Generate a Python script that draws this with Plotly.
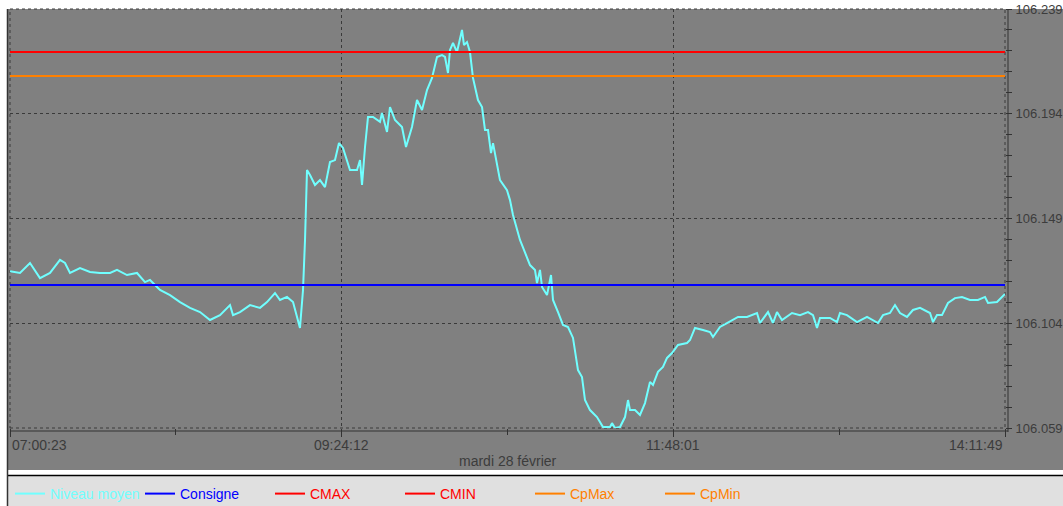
import plotly.graph_objects as go
import pandas as pd

DATE = "2023-02-28"

# --- data -----------------------------------------------------------------
times = [
    "07:00:23", "07:04:43", "07:09:03", "07:13:23", "07:17:44", "07:22:04", "07:24:14", "07:26:24",
    "07:30:44", "07:35:04", "07:39:24", "07:43:45", "07:46:47", "07:51:07", "07:55:27", "07:58:55",
    "08:01:05", "08:05:25", "08:09:46", "08:14:06", "08:18:26", "08:22:46", "08:27:06", "08:31:26",
    "08:35:47", "08:37:05", "08:40:07", "08:44:27", "08:48:47", "08:51:49", "08:55:17", "08:57:27",
    "09:00:29", "09:03:06", "09:06:07", "09:07:26", "09:08:18", "09:08:44", "09:09:10", "09:10:28",
    "09:12:38", "09:14:48", "09:16:58", "09:19:08", "09:21:18", "09:23:02", "09:24:46", "09:27:48",
    "09:30:51", "09:32:09", "09:33:01", "09:34:19", "09:35:37", "09:37:47", "09:40:49", "09:41:41",
    "09:43:51", "09:45:09", "09:47:19", "09:50:21", "09:52:05", "09:54:41", "09:56:52", "09:59:02",
    "10:01:12", "10:03:22", "10:05:32", "10:07:42", "10:09:00", "10:10:18", "10:11:10", "10:12:28",
    "10:14:12", "10:16:22", "10:17:14", "10:18:32", "10:19:50", "10:21:08", "10:23:18", "10:25:03",
    "10:26:21", "10:27:39", "10:28:57", "10:29:49", "10:32:51", "10:35:53", "10:37:11", "10:38:29",
    "10:41:31", "10:45:51", "10:48:01", "10:48:53", "10:50:11", "10:51:04", "10:53:14", "10:54:58",
    "10:55:50", "10:58:00", "11:00:10", "11:02:20", "11:04:30", "11:06:40", "11:08:24", "11:09:42",
    "11:11:52", "11:14:54", "11:17:30", "11:20:33", "11:21:25", "11:22:43", "11:24:53", "11:27:03",
    "11:28:21", "11:29:13", "11:31:23", "11:33:33", "11:35:43", "11:37:53", "11:39:11", "11:41:21",
    "11:43:31", "11:45:16", "11:47:26", "11:50:02", "11:53:56", "11:55:14", "11:57:24", "12:00:52",
    "12:03:54", "12:05:12", "12:08:14", "12:11:16", "12:13:53", "12:16:03", "12:19:57", "12:24:17",
    "12:25:35", "12:29:03", "12:31:13", "12:32:57", "12:35:07", "12:39:28", "12:42:55", "12:46:24",
    "12:48:34", "12:50:18", "12:51:36", "12:55:56", "12:58:58", "13:00:16", "13:03:18", "13:07:39",
    "13:11:59", "13:16:45", "13:18:55", "13:21:57", "13:24:07", "13:26:17", "13:29:19", "13:31:55",
    "13:34:58", "13:39:18", "13:40:36", "13:42:20", "13:44:30", "13:47:06", "13:50:08", "13:53:10",
    "13:56:38", "14:00:06", "14:03:09", "14:04:27", "14:08:21", "14:11:49",
]

niveau_moyen = [
    106.1264, 106.1256, 106.1299, 106.1234, 106.1256, 106.1312, 106.1299, 106.1256,
    106.1277, 106.1260, 106.1256, 106.1256, 106.1269, 106.1247, 106.1256, 106.1217,
    106.1226, 106.1183, 106.1161, 106.1131, 106.1106, 106.1088, 106.1054, 106.1075,
    106.1118, 106.1075, 106.1088, 106.1118, 106.1106, 106.1131, 106.1170, 106.1140,
    106.1153, 106.1131, 106.1020, 106.1183, 106.1398, 106.1569, 106.1698, 106.1677,
    106.1634, 106.1655, 106.1625, 106.1733, 106.1741, 106.1814, 106.1793, 106.1698,
    106.1698, 106.1741, 106.1634, 106.1797, 106.1926, 106.1926, 106.1905, 106.1943,
    106.1862, 106.1969, 106.1913, 106.1883, 106.1797, 106.1883, 106.1999, 106.1956,
    106.2042, 106.2094, 106.2184, 106.2192, 106.2184, 106.2115, 106.2214, 106.2244,
    106.2205, 106.2300, 106.2235, 106.2248, 106.2205, 106.2094, 106.1999, 106.1969,
    106.1870, 106.1870, 106.1771, 106.1814, 106.1655, 106.1612, 106.1569, 106.1505,
    106.1398, 106.1290, 106.1269, 106.1213, 106.1269, 106.1196, 106.1161, 106.1247,
    106.1140, 106.1088, 106.1033, 106.1024, 106.0977, 106.0839, 106.0809, 106.0710,
    106.0667, 106.0637, 106.0594, 106.0594, 106.0611, 106.0590, 106.0594, 106.0637,
    106.0710, 106.0667, 106.0667, 106.0646, 106.0697, 106.0788, 106.0775, 106.0831,
    106.0852, 106.0891, 106.0912, 106.0947, 106.0955, 106.0968, 106.1020, 106.1011,
    106.1002, 106.0981, 106.1024, 106.1041, 106.1054, 106.1067, 106.1067, 106.1084,
    106.1041, 106.1088, 106.1041, 106.1088, 106.1054, 106.1084, 106.1075, 106.1088,
    106.1075, 106.1020, 106.1063, 106.1063, 106.1045, 106.1084, 106.1075, 106.1045,
    106.1067, 106.1041, 106.1075, 106.1084, 106.1118, 106.1084, 106.1067, 106.1097,
    106.1106, 106.1084, 106.1045, 106.1075, 106.1075, 106.1127, 106.1148, 106.1153,
    106.1140, 106.1140, 106.1153, 106.1127, 106.1131, 106.1166,
]

consigne = 106.1204
cmax = 106.2205
cmin = 106.0203
cpmax = 106.2102
cpmin = 106.0306

x_tick_labels = ["07:00:23", "09:24:12", "11:48:01", "14:11:49"]
y_tick_vals = [106.059, 106.104, 106.149, 106.194, 106.239]
x_title = "mardi 28 février"

# --- styling ---------------------------------------------------------------
W, H = 1063, 506
ML, MR, MT, MB = 10, 58, 9, 78
PW, PH = W - ML - MR, H - MT - MB          # plot area in px


def px_x(px):
    return (px - ML) / PW


def px_y(py):
    return (H - MB - py) / PH


FONT = "Liberation Sans, Arial, sans-serif"
TXT = "#3c3c3c"
GRID = "#3a3a3a"
CYAN = "#70ffff"
BLUE = "#0000ff"
RED = "#ff0000"
ORANGE = "#ff8000"

x_full = [f"{DATE} {t}" for t in times]
x_ticks = [f"{DATE} {t}" for t in x_tick_labels]
x_range = [x_ticks[0], x_ticks[-1]]
tk = pd.to_datetime(x_ticks)
x_minor = [str(tk[i] + (tk[i + 1] - tk[i]) / 2) for i in range(len(tk) - 1)]
y_step = (y_tick_vals[1] - y_tick_vals[0]) / 5
y_minor = [y_tick_vals[0] + i * y_step for i in range(int(round((y_tick_vals[-1] - y_tick_vals[0]) / y_step)) + 1)]


def lbl(name, color):
    return f'<span style="color:{color}">{name}</span>'


fig = go.Figure()
fig.add_trace(go.Scatter(x=x_full, y=niveau_moyen, mode="lines", name=lbl("Niveau moyen", CYAN),
                         line=dict(color=CYAN, width=2)))
for name, val, col in [("Consigne", consigne, BLUE), ("CMAX", cmax, RED), ("CMIN", cmin, RED),
                       ("CpMax", cpmax, ORANGE), ("CpMin", cpmin, ORANGE)]:
    fig.add_trace(go.Scatter(x=x_range, y=[val, val], mode="lines", name=lbl(name, col),
                             line=dict(color=col, width=2)))

shapes = [
    dict(type="rect", xref="paper", yref="paper", x0=px_x(8), x1=px_x(W), y0=px_y(470), y1=px_y(MT),
         fillcolor="#808080", line=dict(width=0), layer="below"),
    dict(type="rect", xref="paper", yref="paper", x0=px_x(8), x1=px_x(W), y0=px_y(H), y1=px_y(476),
         fillcolor="#e0e0e0", line=dict(width=0), layer="below"),
    dict(type="line", xref="paper", yref="paper", x0=px_x(8), x1=px_x(W), y0=px_y(475.5), y1=px_y(475.5),
         line=dict(color="#000000", width=1.5), layer="below"),
    dict(type="line", xref="paper", yref="paper", x0=px_x(7.5), x1=px_x(7.5), y0=px_y(H), y1=px_y(MT),
         line=dict(color="#333333", width=1.5), layer="below"),
    dict(type="rect", xref="paper", yref="paper", x0=0, x1=1, y0=0, y1=1,
         line=dict(color=GRID, width=1, dash="dot"), layer="below"),
    dict(type="line", xref="paper", yref="paper", x0=px_x(1008), x1=px_x(1008), y0=px_y(432), y1=1,
         line=dict(color="#333333", width=1)),
    dict(type="line", xref="paper", yref="paper", x0=0, x1=px_x(1008), y0=px_y(431), y1=px_y(431),
         line=dict(color="#333333", width=1)),
]

annotations = []
for i, (xv, txt) in enumerate(zip(x_ticks, x_tick_labels)):
    anchor = "left" if i == 0 else ("right" if i == len(x_ticks) - 1 else "center")
    annotations.append(dict(x=xv, xref="x", y=px_y(445), yref="paper", text=txt, showarrow=False,
                            xanchor=anchor, yanchor="middle", font=dict(size=14, color=TXT, family=FONT)))
annotations.append(dict(x=0.5, xref="paper", y=px_y(461), yref="paper", text=x_title, showarrow=False,
                        xanchor="center", yanchor="middle", font=dict(size=14, color=TXT, family=FONT)))

fig.update_layout(
    width=W, height=H, autosize=False,
    margin=dict(l=ML, r=MR, t=MT, b=MB, pad=0, autoexpand=False),
    paper_bgcolor="#ffffff",
    plot_bgcolor="rgba(0,0,0,0)",
    font=dict(family=FONT, size=14, color=TXT),
    showlegend=True,
    legend=dict(orientation="h", x=0, xanchor="left", y=px_y(494), yanchor="middle",
                bgcolor="rgba(0,0,0,0)", font=dict(size=14, family=FONT),
                entrywidth=85, entrywidthmode="pixels", itemwidth=30, tracegroupgap=0),
    shapes=shapes,
    annotations=annotations,
    xaxis=dict(type="date", range=x_range, tickmode="array", tickvals=x_ticks, showticklabels=False,
               automargin=False,
               showgrid=True, gridcolor=GRID, griddash="dot", gridwidth=1, zeroline=False,
               ticks="outside", ticklen=8, tickcolor="#333333",
               minor=dict(tickvals=x_minor, ticks="outside", ticklen=6, tickcolor="#333333", showgrid=False),
               fixedrange=True),
    yaxis=dict(side="right", range=[y_tick_vals[0], y_tick_vals[-1]], tickmode="array",
               tickvals=y_tick_vals, ticktext=[f"{v:.3f}" for v in y_tick_vals], automargin=False,
               showgrid=True, gridcolor=GRID, griddash="dot", gridwidth=1, zeroline=False,
               ticks="outside", ticklen=6, tickcolor="#333333", ticklabelstandoff=1,
               tickfont=dict(size=13, color=TXT, family=FONT),
               minor=dict(tickvals=y_minor, ticks="outside", ticklen=6, tickcolor="#333333", showgrid=False),
               fixedrange=True),
)

post = (
    "document.documentElement.style.margin='0';"
    "document.body.style.margin='0';document.body.style.overflow='hidden';"
    "var gd=document.getElementById('{plot_id}');"
    "gd.style.position='fixed';gd.style.left='0px';gd.style.top='0px';"
)

fig.write_html(
    "out.html",
    config={"displayModeBar": False, "responsive": False},
    post_script=post,
)
